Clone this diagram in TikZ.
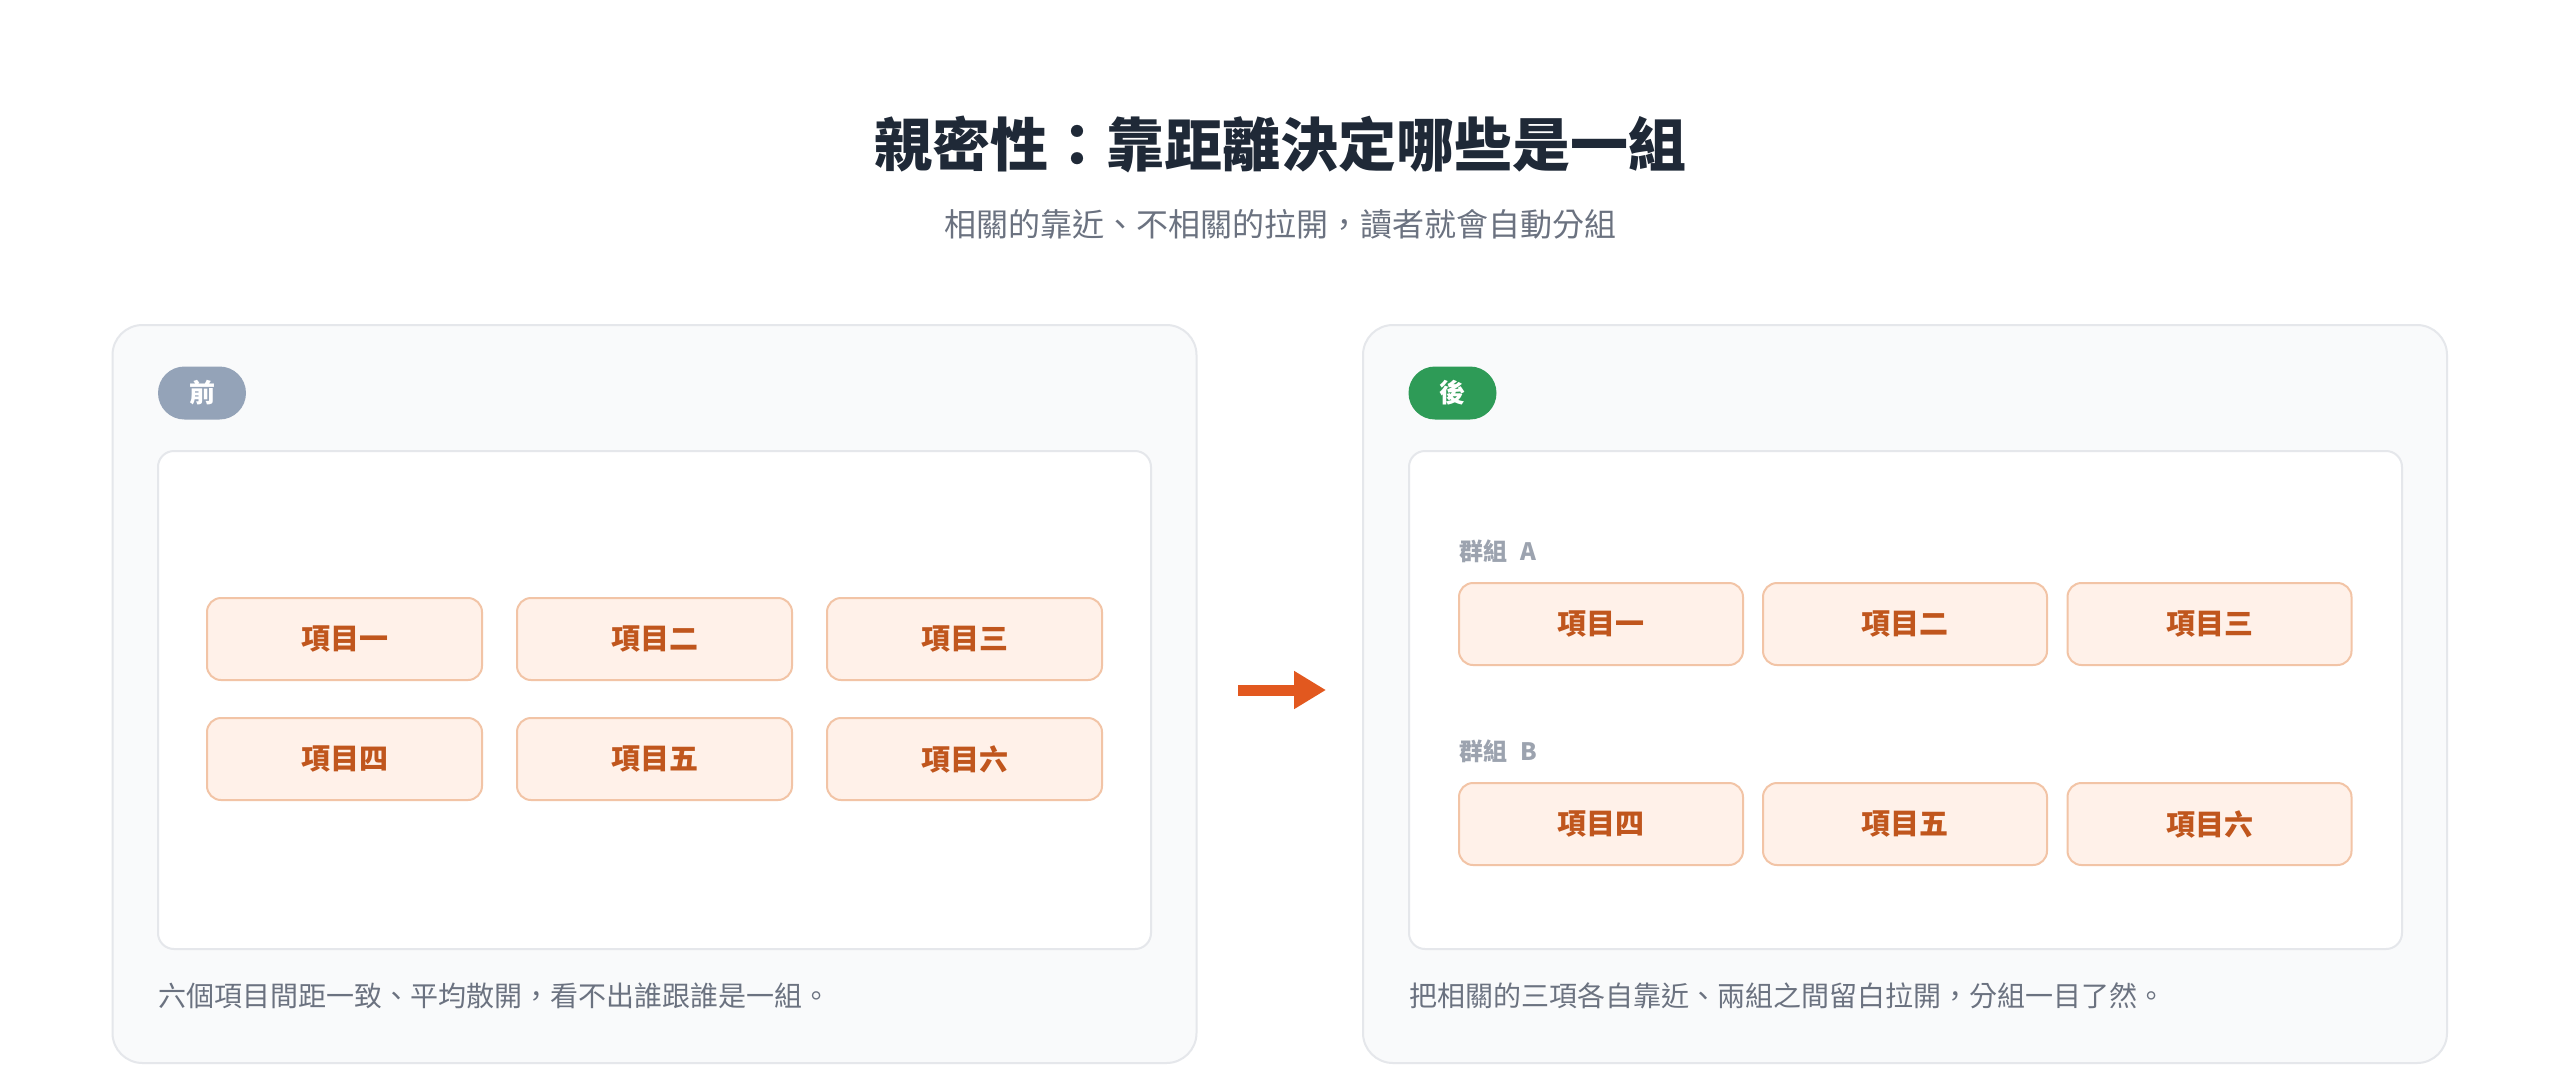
\documentclass[tikz,border=0pt]{standalone}
\usepackage{fontspec}
\setmainfont{Noto Sans CJK TC}
\usetikzlibrary{arrows.meta}
\definecolor{titlec}{HTML}{1F2937}
\definecolor{subc}{HTML}{6B7280}
\definecolor{panelf}{HTML}{F9FAFB}
\definecolor{panelb}{HTML}{E5E7EB}
\definecolor{itemf}{HTML}{FFF1E9}
\definecolor{itemb}{HTML}{F2C4A6}
\definecolor{itemt}{HTML}{C0561D}
\definecolor{grpc}{HTML}{9CA3AF}
\definecolor{arrowc}{HTML}{E2581F}
\definecolor{badgegray}{HTML}{94A3B8}
\definecolor{badgegreen}{HTML}{2E9B57}
\begin{document}
\begin{tikzpicture}[x=1pt,y=-1pt,
  panel/.style={draw=panelb, fill=panelf, line width=2pt, rounded corners=30pt, minimum width=1084pt, minimum height=738pt, inner sep=0pt},
  innerbox/.style={draw=panelb, fill=white, line width=2pt, rounded corners=16pt, minimum width=993pt, minimum height=498pt, inner sep=0pt},
  badge/.style={rounded corners=26.5pt, minimum width=88pt, minimum height=53pt, text=white, font=\fontsize{26}{26}\selectfont\bfseries, inner sep=0pt},
  item/.style={draw=itemb, fill=itemf, line width=2pt, rounded corners=14pt, minimum height=82pt, text=itemt, font=\fontsize{29}{29}\selectfont\bfseries, inner sep=0pt},
  itemL/.style={item, minimum width=275pt},
  itemR/.style={item, minimum width=284pt},
  grplabel/.style={anchor=west, inner sep=0pt, text=grpc, font=\fontsize{24}{24}\selectfont\bfseries},
  caption/.style={anchor=west, inner sep=0pt, text=subc, font=\fontsize{28}{28}\selectfont},
  bigarrow/.style={draw=arrowc, line width=11pt, -{Triangle[length=32pt,width=36pt]}}
]
\useasboundingbox (0,0) rectangle (2560,1088);
\fill[white] (0,0) rectangle (2560,1088);

% title
\node[text=titlec, font=\fontsize{58}{58}\selectfont\bfseries, inner sep=0pt] (title) at (1280,144) {親密性：靠距離決定哪些是一組};
\node[text=subc, font=\fontsize{32}{32}\selectfont, inner sep=0pt] (subtitle) at (1280,224) {相關的靠近、不相關的拉開，讀者就會自動分組};

% panels
\node[panel] (lpanel) at (654.5,694) {};
\node[panel] (rpanel) at (1905,694) {};
\node[innerbox] (linner) at (654.5,700) {};
\node[innerbox] (rinner) at (1905.5,700) {};

% badges
\node[badge, fill=badgegray] (bbefore) at (202,393) {前};
\node[badge, fill=badgegreen] (bafter) at (1452.5,393) {後};

% left items
\node[itemL] (l1) at (344.5,639) {項目一};
\node[itemL] (l2) at (654.5,639) {項目二};
\node[itemL] (l3) at (964.5,639) {項目三};
\node[itemL] (l4) at (344.5,759) {項目四};
\node[itemL] (l5) at (654.5,759) {項目五};
\node[itemL] (l6) at (964.5,759) {項目六};

% right items
\node[grplabel] (ga) at (1459,551) {群組\hspace{13pt}A};
\node[itemR] (r1) at (1601,624) {項目一};
\node[itemR] (r2) at (1905,624) {項目二};
\node[itemR] (r3) at (2209.5,624) {項目三};
\node[grplabel] (gb) at (1459,751) {群組\hspace{13pt}B};
\node[itemR] (r4) at (1601,824) {項目四};
\node[itemR] (r5) at (1905,824) {項目五};
\node[itemR] (r6) at (2209.5,824) {項目六};

% captions
\node[caption] (lcap) at (158,996) {六個項目間距一致、平均散開，看不出誰跟誰是一組。};
\node[caption] (rcap) at (1409,996) {把相關的三項各自靠近、兩組之間留白拉開，分組一目了然。};

% arrow
\coordinate (astart) at (1238,690);
\coordinate (aend) at (1326,690);
\draw[bigarrow] (astart) -- (aend);
\end{tikzpicture}
\end{document}
